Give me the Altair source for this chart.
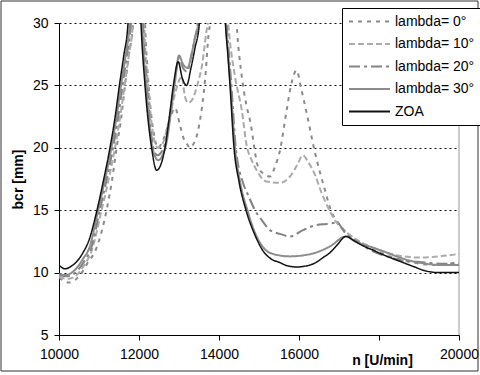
import altair as alt
import pandas as pd

series_names = ["lambda= 0°", "lambda= 10°", "lambda= 20°", "lambda= 30°", "ZOA"]

# ZOA (black solid)
n_zoa = [10000, 10150, 10300, 10450, 10600, 10750, 10950, 11100, 11275, 11400,
         11510, 11620, 11725, 11850, 11950, 12050, 12150, 12315, 12440, 12540,
         12650, 12760, 12860, 12980, 13080, 13190, 13300, 13400, 13510, 13650,
         14050, 14160, 14220, 14275, 14375, 14500, 14675, 14900, 15110, 15300,
         15525, 15700, 15940, 16200, 16420, 16600, 16775, 16950, 17175, 17400,
         17600, 17850, 18200, 18525, 18850, 19150, 19500, 20000]
b_zoa = [10.6, 10.3, 10.5, 10.9, 11.6, 12.6, 15.0, 17.2, 20.0, 22.4,
         25.0, 27.4, 30.0, 40, 40, 30.0, 25.0, 20.0, 18.2, 18.6,
         20.0, 22.5, 25.0, 26.9, 25.6, 25.0, 26.4, 28.0, 30.0, 40,
         40, 30.0, 27.5, 25.0, 20.0, 17.3, 15.0, 13.0, 11.7, 11.1,
         10.8, 10.55, 10.45, 10.55, 10.8, 11.2, 11.6, 12.2, 12.9, 12.5,
         12.15, 11.8, 11.3, 10.9, 10.5, 10.15, 10.0, 10.0]

# lambda = 30° (gray solid)
n_30 = [10000, 10150, 10300, 10450, 10600, 10760, 10980, 11140, 11310, 11440,
        11550, 11670, 11770, 11900, 12000, 12080, 12180, 12340, 12480, 12600,
        12700, 12800, 12900, 13000, 13100, 13215, 13320, 13400, 13480, 13650,
        14050, 14170, 14230, 14290, 14400, 14530, 14710, 14900, 15110, 15350,
        15775, 16025, 16420, 16775, 17175, 17400, 17850, 18200, 18525, 18850,
        19200, 19600, 20000]
b_30 = [9.9, 9.8, 9.95, 10.4, 11.1, 12.0, 15.0, 17.3, 20.0, 22.5,
        25.0, 27.5, 30.0, 40, 40, 30.0, 25.0, 20.0, 19.0, 19.5,
        20.6, 22.9, 25.3, 27.4, 26.7, 26.4, 27.6, 28.8, 30.0, 40,
        40, 30.0, 27.5, 25.0, 20.0, 17.2, 15.0, 13.2, 12.0, 11.5,
        11.3, 11.35, 11.6, 12.1, 12.9, 12.5, 12.0, 11.6, 11.2, 10.9,
        10.7, 10.6, 10.6]

# lambda = 20° (dash-dot)
n_20 = [10000, 10200, 10350, 10500, 10650, 10800, 11020, 11180, 11350, 11480,
        11590, 11700, 11800, 11920, 12020, 12100, 12200, 12360, 12460, 12600,
        12700, 12800, 12900, 13000, 13100, 13200, 13310, 13390, 13470, 13650,
        14050, 14190, 14250, 14310, 14420, 14600, 14730, 14900, 15070, 15275,
        15525, 15775, 16100, 16420, 16690, 16940, 17175, 17500, 17850, 18200,
        18525, 18850, 19190, 19600, 20000]
b_20 = [9.8, 9.7, 9.85, 10.3, 11.0, 11.9, 15.0, 17.3, 20.0, 22.5,
        25.0, 27.5, 30.0, 40, 40, 30.0, 25.0, 20.0, 19.4, 19.9,
        21.0, 23.2, 25.5, 27.2, 26.4, 26.1, 27.4, 28.7, 30.0, 40,
        40, 30.0, 27.5, 25.0, 20.0, 17.2, 16.2, 15.0, 14.2, 13.4,
        13.1, 12.9, 13.4, 13.8, 13.9, 14.0, 13.1, 12.4, 11.7, 11.3,
        11.0, 10.9, 10.8, 10.7, 10.7]

# lambda = 10° (light dashed)
n_10 = [10000, 10200, 10350, 10500, 10650, 10800, 11065, 11230, 11400, 11530,
        11640, 11750, 11850, 11970, 12070, 12130, 12230, 12380, 12480, 12600,
        12720, 12860, 12960, 13065, 13150, 13230, 13320, 13400, 13490, 13570,
        13690, 13720, 13850, 14050, 14230, 14400, 14570, 14690, 14820, 14940,
        15190, 15525, 15775, 15950, 16100, 16220, 16350, 16600, 16920, 17275,
        17850, 18420, 19040, 19525, 20000]
b_10 = [9.7, 9.5, 9.6, 10.0, 10.7, 11.6, 15.0, 17.3, 20.0, 22.5,
        25.0, 27.5, 30.0, 40, 40, 30.0, 25.0, 20.6, 20.0, 20.4,
        21.8, 23.8, 25.0, 25.7, 24.1, 23.6, 23.8, 24.4, 25.4, 26.5,
        29.4, 30.0, 40, 40, 30.0, 25.7, 23.0, 20.2, 19.0, 18.2,
        17.3, 17.2, 17.7, 18.6, 19.4, 18.9, 18.2, 16.1, 14.1, 13.0,
        12.0, 11.4, 11.2, 11.3, 11.5]

# lambda = 0° (short dashes)
n_0 = [10000, 10250, 10400, 10550, 10700, 10940, 11190, 11330, 11440, 11560,
       11650, 11750, 11850, 11950, 12050, 12150, 12240, 12380, 12470, 12600,
       12750, 12900, 13025, 13110, 13200, 13275, 13360, 13440, 13525, 13650,
       13750, 13780, 13900, 14300, 14440, 14570, 14680, 14775, 14975, 15125,
       15275, 15400, 15525, 15690, 15800, 15940, 16050, 16190, 16400, 16650,
       16775, 17025, 17350, 17690, 18275, 18850, 19525, 20000]
b_0 = [9.6, 9.2, 9.4, 9.9, 10.7, 12.0, 15.0, 17.5, 20.0, 22.5,
       25.0, 27.5, 30.0, 40, 40, 30.0, 25.0, 21.0, 20.0, 20.6,
       22.0, 23.2, 21.8, 20.8, 20.3, 20.0, 20.3, 20.9, 22.2, 25.4,
       29.4, 30.0, 40, 40, 30.0, 25.7, 23.5, 22.2, 18.5, 17.9,
       17.7, 18.5, 19.8, 23.0, 25.0, 26.2, 24.8, 22.8, 19.6, 16.6,
       15.2, 13.8, 12.8, 12.1, 11.3, 10.8, 10.6, 10.9]

x_ticks = [10000, 12000, 14000, 16000, 18000, 20000]
y_ticks = [5, 10, 15, 20, 25, 30]

rows = []
for name, ns, bs in zip(series_names, [n_0, n_10, n_20, n_30, n_zoa],
                        [b_0, b_10, b_20, b_30, b_zoa]):
    for i, (n, b) in enumerate(zip(ns, bs)):
        rows.append({"series": name, "n": n, "b": b, "i": i})
df = pd.DataFrame(rows)

FONT = "Liberation Sans"

x_scale = alt.Scale(domain=[10000, 20000], nice=False, zero=False)
y_scale = alt.Scale(domain=[5, 30], nice=False, zero=False)

color_scale = alt.Scale(domain=series_names,
                        range=["#8a8a8a", "#ababab", "#838383", "#8c8c8c", "#111111"])
dash_scale = alt.Scale(domain=series_names,
                       range=[[4, 5], [6, 3], [11, 4, 3, 4], [1, 0], [1, 0]])

legend = alt.Legend(orient="none", legendX=283, legendY=-15, title=None,
                    symbolType="stroke", symbolSize=1681, clipHeight=15,
                    symbolStrokeWidth=2, labelFontSize=14, labelFont=FONT,
                    labelColor="black", labelOffset=4, rowPadding=7.5,
                    padding=6, strokeColor="black", fillColor="white",
                    labelLimit=200)

x_axis = alt.Axis(values=x_ticks, format="d",
                  labelExpr="datum.value == 18000 ? '' : datum.label",
                  title="n [U/min]", titleX=323, titleY=25, titleAlign="center",
                  titleBaseline="middle", titleFontWeight="bold", titleFontSize=14,
                  titleFont=FONT, titleColor="black",
                  labelFontSize=14, labelFont=FONT, labelColor="black",
                  labelFlush=False, labelOverlap=False,
                  tickSize=5, labelPadding=7, domainColor="black", tickColor="black",
                  grid=False)

y_axis = alt.Axis(values=y_ticks, title="bcr [mm]", titleX=-41, titleY=156,
                  titleAngle=-90, titleAlign="center", titleBaseline="middle",
                  titleFontWeight="bold", titleFontSize=14, titleFont=FONT,
                  titleColor="black", labelFontSize=14, labelFont=FONT,
                  labelColor="black", tickSize=5, labelPadding=6,
                  domainColor="black", tickColor="black",
                  grid=True, gridDash=[2, 3], gridColor="#111111", gridWidth=1)

lines = alt.Chart(df).mark_line(clip=True, interpolate="monotone").encode(
    x=alt.X("n:Q", scale=x_scale, axis=x_axis),
    y=alt.Y("b:Q", scale=y_scale, axis=y_axis),
    color=alt.Color("series:N", scale=color_scale, legend=legend),
    strokeDash=alt.StrokeDash("series:N", scale=dash_scale, legend=legend),
    strokeWidth=alt.condition(alt.datum.series == "ZOA", alt.value(1.5), alt.value(2)),
    order="i:Q",
)

right_edge = alt.Chart(pd.DataFrame({"n": [20000]})).mark_rule(
    color="#999999", strokeWidth=1).encode(x=alt.X("n:Q", scale=x_scale))

frame = alt.Chart(pd.DataFrame({"a": [0]})).mark_rect(
    fillOpacity=0, stroke="#333333", strokeWidth=1, clip=False).encode(
    x=alt.value(-58), x2=alt.value(419), y=alt.value(-22), y2=alt.value(348))

chart = alt.layer(right_edge, lines, frame).properties(
    width=400, height=312,
    autosize=alt.AutoSizeParams(type="none"),
    padding={"left": 59, "top": 23, "right": 21, "bottom": 40},
).configure(font=FONT).configure_view(stroke=None)

chart.save("out.html", embed_options={"renderer": "svg", "actions": False})
